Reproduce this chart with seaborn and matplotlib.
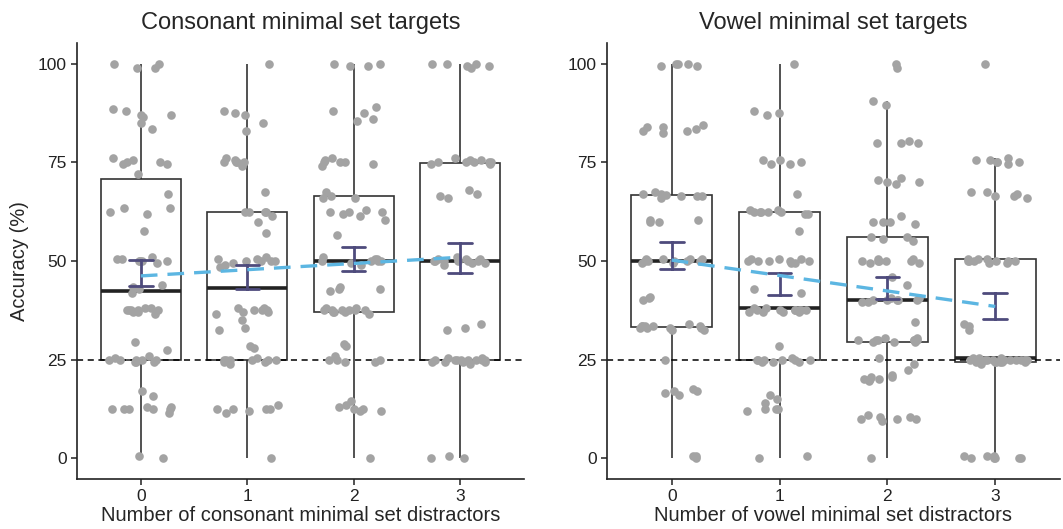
import numpy as np
import pandas as pd
import seaborn as sns
import matplotlib.pyplot as plt

# accuracy (%) per participant, grouped by number of distractors (0..3)
cons_0 = [100, 100, 99, 99, 87, 86.5, 87, 88.5, 88, 85, 83.5,
          75, 75.5, 76, 75, 74.5, 74.5, 72, 67, 62.5, 62, 63.5, 63.5, 57.5,
          50, 50.5, 50, 49.5, 51, 50, 50.5, 50, 43.5, 43, 42, 44,
          37.5, 37.5, 38, 37.5, 37, 37.5, 38, 37, 37.5, 36.5, 29.5, 27.5,
          25, 25, 24.5, 25, 26, 25, 24.5, 25, 25.5, 24.5, 17, 15.7,
          12.5, 12.5, 12.5, 12.5, 13, 12.5, 13, 11.5, 0, 0.5]
cons_1 = [100, 88, 87.5, 87, 85, 83, 75, 75, 75, 75.5, 76, 74, 75, 67.5,
          62.5, 62.5, 62.5, 62.5, 61.5, 60, 57,
          50, 50.5, 50, 49.5, 50, 51, 50, 49, 50.5, 48.5,
          38, 37.5, 37, 37.5, 37.5, 37, 38, 36.5, 35, 33, 32.5, 28.5, 28,
          25, 25, 24.5, 25, 25.5, 25, 24, 25, 25, 24.5,
          12.5, 12.5, 12, 12.5, 13.5, 12.5, 11.5, 0]
cons_2 = [100, 100, 99.5, 99.5, 89, 88, 87.5, 86, 85.5,
          76, 75, 75, 74.5, 75.5, 74, 75, 67.5, 66.5, 66, 66,
          63, 62.5, 62.5, 62, 61.5, 62.5, 60.5, 56.5,
          50, 50.5, 50, 49.5, 50, 50.5, 49, 50, 51, 43, 43.5, 42.5, 43,
          37.5, 37.5, 38, 37, 37.5, 37, 37.5, 38, 37.5, 36.5, 37.5, 37,
          29, 28.5, 26, 25, 24.5, 25, 24.5, 25,
          14.5, 13, 12.5, 12, 13.5, 12.5, 12, 0]
cons_3 = [100, 100, 99.5, 99.5, 100, 99,
          75, 75.5, 75, 74.5, 75, 76, 75, 74.5, 75, 75.5, 68, 67, 66.5, 66,
          50, 50.5, 50, 49.5, 50, 51, 50, 49.5, 50.5, 50, 49, 50, 50.5,
          34, 33, 32.5,
          25, 25, 24.5, 25.5, 25, 24.5, 25, 25, 24, 25.5, 25, 24.5, 25, 25, 24.5,
          0, 0.5, 0]

vow_0 = [100, 100, 99.5, 100, 99.5, 84.5, 84, 83, 83, 82.5, 84, 83.5,
         67, 66.5, 66.5, 66, 67, 67.5, 66.5, 66.7, 60.5, 60, 60.5, 60,
         50.5, 50, 50.5, 50, 49.5, 50, 50.5, 50, 49.5, 50, 50.5, 40.5, 41, 40,
         33.5, 33, 33.5, 32.5, 33, 33.5, 34, 33.5, 33, 33, 32.5, 33.5, 25,
         17, 17, 17.5, 16, 16.5, 0.5, 0, 0.5]
vow_1 = [100, 88, 87, 87.5, 75.5, 75, 75.5, 74.5, 74.5, 67,
         62.5, 63, 62.5, 62.5, 62, 62.5, 62, 62.5, 63, 57.5,
         50.5, 50.5, 50, 49.5, 50, 50, 50, 50.5, 50, 49.5, 43, 42,
         37.5, 37.5, 37, 38, 37.5, 37, 37.5, 37, 37.5, 38, 37.5, 37, 37.5, 28.5,
         25, 25, 24.5, 25.5, 25, 25, 24.5, 25, 25, 24.5,
         16, 15, 14, 12, 12.5, 12.5, 12.5, 0.5, 0]
vow_2 = [100, 99, 90.5, 89.5, 80, 80, 80, 80.5, 70.5, 70, 69.5, 70, 71,
         60, 61.5, 60, 59.5, 60, 56, 55.5, 55, 56,
         50, 50.5, 50, 49.5, 50, 50.5, 50, 49.5, 50, 46, 44,
         40, 40.5, 40, 39.5, 40, 40.5, 40, 39.5, 40, 34.5,
         30, 30, 29.5, 30.5, 30, 30, 29.5, 30, 30.5, 30, 29.5, 30,
         25.5, 24, 22.5, 20, 20.5, 20, 19.5, 20.5, 20, 21,
         10, 10.5, 10, 11, 9.5, 10, 10.5, 0]
vow_3 = [100, 75.5, 75, 76, 75.5, 74.5, 75, 75, 67.5, 66.5, 66, 66.5, 67, 67.5,
         50, 50.5, 50, 49.5, 50, 50.5, 50, 49.5, 50, 50.5, 50, 34, 33.5, 32.5,
         25, 25, 24.5, 25.5, 25, 24.5, 25, 25, 24, 25.5, 25, 24.5, 25, 25, 24.5,
         25, 25.5, 24.5, 25, 25, 24.5,
         0, 0.5, 0, 0.5, 0, 0, 0.5, 0]

titles = ["Consonant minimal set targets", "Vowel minimal set targets"]
xlabels = ["Number of consonant minimal set distractors",
           "Number of vowel minimal set distractors"]
groups = [[cons_0, cons_1, cons_2, cons_3], [vow_0, vow_1, vow_2, vow_3]]


def make_df(lists):
    return pd.DataFrame({
        "distractors": np.repeat([0, 1, 2, 3], [len(v) for v in lists]),
        "accuracy": np.concatenate(lists),
    })


sns.set_theme(style="ticks")
plt.rcParams["font.family"] = ["Liberation Sans", "DejaVu Sans"]

fig = plt.figure(figsize=(10.63, 5.29), dpi=100)
axes = [fig.add_axes([0.0724, 0.0945, 0.4206, 0.8242]),
        fig.add_axes([0.571, 0.0945, 0.4262, 0.8242])]

np.random.seed(7)
for i, ax in enumerate(axes):
    df = make_df(groups[i])
    sns.boxplot(data=df, x="distractors", y="accuracy", ax=ax, color="white",
                linecolor="#333333", linewidth=1.2, width=0.75, showfliers=False,
                showcaps=False, medianprops={"linewidth": 2.6, "color": "#222222"})
    ax.axhline(25, color="black", lw=1.1, ls=(0, (4, 3)), zorder=2.5)
    sns.stripplot(data=df, x="distractors", y="accuracy", ax=ax, jitter=0.3,
                  color="#A3A3A3", size=6.2, linewidth=0, zorder=3)
    sns.pointplot(data=df, x="distractors", y="accuracy", ax=ax, errorbar="se",
                  capsize=0.22, color="#4E4B7C", linestyle="none", marker="",
                  err_kws={"linewidth": 2}, zorder=4)
    sns.regplot(data=df, x="distractors", y="accuracy", ax=ax, scatter=False,
                ci=None, line_kws={"color": "#5CB6E2", "lw": 2.4,
                                   "ls": (0, (5, 3)), "zorder": 5})
    ax.set_xlim(-0.6, 3.6)
    ax.set_ylim(-5.25, 105.25)
    ax.set_yticks([0, 25, 50, 75, 100])
    ax.set_xticks([0, 1, 2, 3])
    ax.set_xticklabels(["0", "1", "2", "3"])
    ax.set_title(titles[i], fontsize=17, pad=10)
    ax.set_xlabel(xlabels[i], fontsize=14.5, labelpad=1)
    ax.set_ylabel("Accuracy (%)" if i == 0 else "", fontsize=14.5, labelpad=6)
    ax.tick_params(labelsize=12.5, length=4, width=1.1, colors="#222222")
    sns.despine(ax=ax)
    for s in ["left", "bottom"]:
        ax.spines[s].set_linewidth(1.2)
        ax.spines[s].set_color("#222222")

fig.savefig("out.png", dpi=100, facecolor="white")
